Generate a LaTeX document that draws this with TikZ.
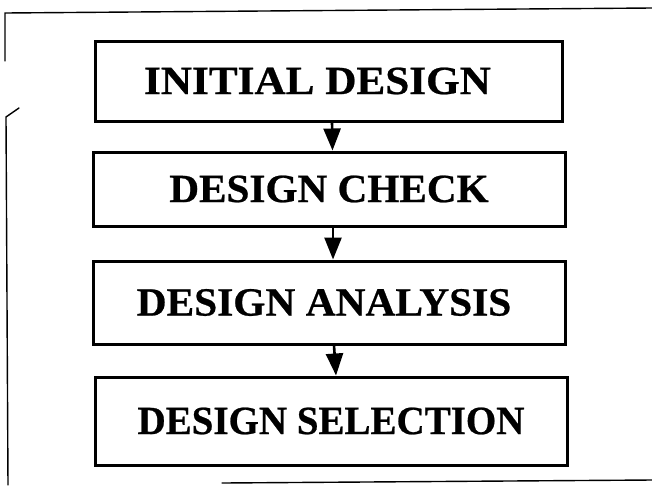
\documentclass[tikz,border=0pt]{standalone}
\usepackage{fontspec}
\setmainfont{Liberation Serif}[BoldFeatures={FakeBold=0.6}]
\usetikzlibrary{arrows.meta}
\begin{document}
\begin{tikzpicture}[x=1pt,y=-1pt,
  stagebox/.style={draw=black, line width=3pt, fill=white, inner sep=0pt,
    minimum width=470pt, font=\fontsize{40}{42}\selectfont\bfseries},
  flow/.style={line width=2.6pt, -{Triangle[length=22pt,width=17pt]}},
  frame/.style={line width=1.4pt, line cap=round}]
\useasboundingbox (0,0) rectangle (652,485);

% outer frame
\coordinate (ftl) at (5,13);
\coordinate (ftr) at (652,8);
\coordinate (fgap) at (5,61);
\coordinate (tickA) at (6,117);
\coordinate (tickB) at (19,108);
\coordinate (fbl) at (8,485);
\coordinate (fbA) at (222,483);
\coordinate (fbB) at (652,480);
\draw[frame] (fgap) -- (ftl) -- (ftr);
\draw[frame] (tickB) -- (tickA) -- (fbl);
\draw[frame] (fbA) -- (fbB);

% process stages
\node[stagebox, minimum width=467pt, minimum height=80pt] (s1) at (328.5,81)
  {\hspace*{-22pt}\scalebox{1.08}[1]{INITIAL DESIGN}};
\node[stagebox, minimum width=472pt, minimum height=74pt] (s2) at (329,189)
  {\scalebox{1.03}[1]{DESIGN CHECK}};
\node[stagebox, minimum width=472pt, minimum height=83pt] (s3) at (329,302.5)
  {\hspace*{-10pt}\scalebox{1.035}[1]{DESIGN ANALYSIS}};
\node[stagebox, minimum width=472pt, minimum height=88pt] (s4) at (331,421)
  {\scalebox{0.975}[1]{DESIGN SELECTION}};

% connectors
\draw[flow] ([xshift=3.5pt]s1.south) -- ([xshift=3.5pt]s2.north);
\draw[flow] ([xshift=4pt]s2.south) -- ([xshift=4pt]s3.north);
\draw[flow] ([xshift=5pt]s3.south) -- ([xshift=5pt]s4.north);
\end{tikzpicture}
\end{document}
